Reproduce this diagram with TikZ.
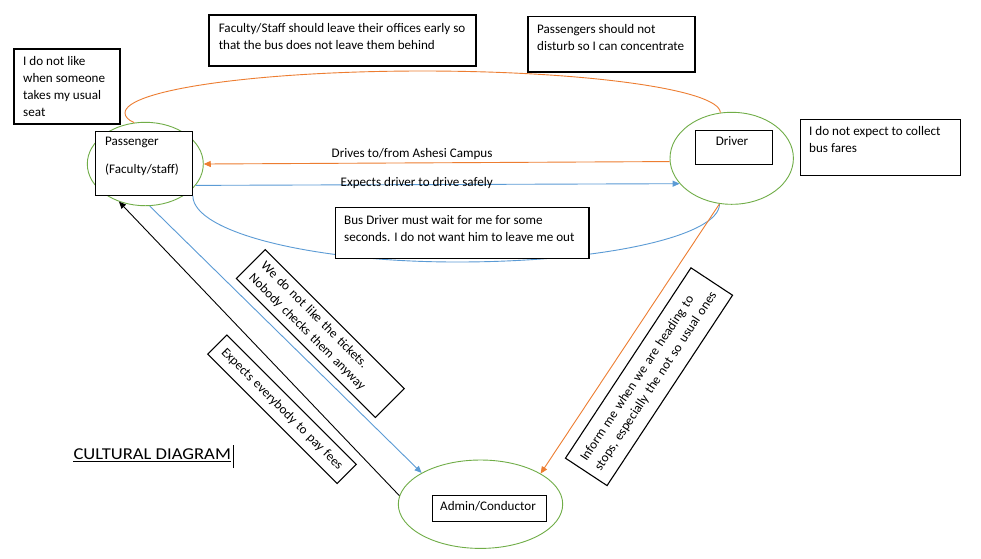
\documentclass[tikz,border=0pt]{standalone}
\usepackage{fontspec}
\setmainfont{Carlito}
\usetikzlibrary{shapes.geometric,arrows.meta}
\definecolor{og}{HTML}{ED7D31}
\definecolor{bl}{HTML}{5B9BD5}
\definecolor{gr}{HTML}{70AD47}
\tikzset{
  every node/.style={font=\fontsize{13.1}{17}\selectfont, inner sep=0pt},
  ell/.style={draw=gr, line width=0.9pt, ellipse, fill=white},
  boxs/.style={draw=black, line width=1.1pt, rectangle, fill=white},
  rbox/.style={draw=black, line width=1.1pt, rectangle, fill=white, align=left, inner xsep=8.5pt, inner ysep=0pt},
  txt/.style={anchor=north west, align=left},
  lnk/.style={line width=0.9pt},
  arr/.style={line width=0.9pt, -{Triangle[length=7pt,width=6pt]}}
}
\begin{document}
\begin{tikzpicture}[x=1pt,y=-1pt]
\fill[white] (0,0) rectangle (981,558);
\useasboundingbox (0,0) rectangle (981,558);

% ellipses
\node[ell, minimum width=116pt, minimum height=83.4pt] (pe) at (145.3,164) {};
\node[ell, minimum width=123.4pt, minimum height=92pt] (de) at (731.7,158.3) {};
\node[ell, minimum width=164.4pt, minimum height=88.4pt] (ae) at (480.5,504.2) {};

% helper coordinates for the curved links
\coordinate (oleft) at (125,113);
\coordinate (otop) at (422.5,71);
\coordinate (bbot) at (457,262);

% boxes inside ellipses
\node[boxs, minimum width=96.6pt, minimum height=63.6pt] (pbox) at (144,163.5) {};
\node[boxs, minimum width=77pt, minimum height=33.7pt] (dbox) at (733.8,147.2) {};
\node[boxs, minimum width=114.4pt, minimum height=26.3pt] (abox) at (489.5,508.2) {};

% connectors
\draw[og, lnk] (pe.105) .. controls (128,120) and (125,116.5) .. (oleft)
  .. controls (125,89.8) and (258.3,71) .. (otop)
  .. controls (586.7,71) and (720,89.8) .. (de.104);
\draw[bl, lnk] (pbox.south east) .. controls (193,232) and (311.3,262) .. (bbot)
  .. controls (602.7,262) and (720,236) .. (de.-105);
\draw[og, arr] (de.183) -- (pe.east);
\draw[bl, arr] (pe.-23) -- (de.206);
\draw[bl, arr] (pe.-84) -- (ae.152);
\draw[og, arr] (de.-105) -- (ae.27);
\draw[black, arr] (ae.174) -- (pe.-125);

% plain boxes
\node[boxs, minimum width=106pt, minimum height=75pt] (b1) at (67,86.5) {};
\node[boxs, minimum width=267pt, minimum height=51pt] (fbox) at (342.5,40.5) {};
\node[boxs, minimum width=167pt, minimum height=55.5pt] (sbox) at (611.5,44.25) {};
\node[boxs, minimum width=160.4pt, minimum height=56pt] (ebox) at (880.5,147.3) {};
\node[boxs, minimum width=253.4pt, minimum height=50.3pt] (bbox) at (462.3,233) {};

% rotated boxes
\node[rbox, rotate=-45, minimum width=196.6pt, minimum height=40.8pt, text width=179.6pt] (r1) at (320.3,333.5)
  {\strut We do not like the tickets.\\\strut Nobody checks them anyway};
\node[rbox, rotate=-45, minimum width=183pt, minimum height=27pt, text width=166pt] (r2) at (282,409.3)
  {\strut Expects everybody to pay fees};
\node[rbox, rotate=56.6, minimum width=228pt, minimum height=49.8pt, text width=211pt] (r3) at (649,376.7)
  {\strut Inform me when we are heading to\\\strut stops, especially the not so usual ones};

% texts
\node[txt] (t1) at (23,53.1) {\strut I do not like\\when someone\\takes my usual\\seat};
\node[txt] (tp) at (105,133.8) {\strut Passenger\\[10.6pt](Faculty/staff)};
\node[txt] (tf) at (218.6,19.9) {\strut Faculty/Staff should leave their offices early so\\that the bus does not leave them behind};
\node[txt] (ts) at (537,21.1) {\strut Passengers should not\\disturb so I can concentrate};
\node[anchor=base] (td) at (732,145) {Driver};
\node[txt] (te) at (809,123.1) {\strut I do not expect to collect\\bus fares};
\node[txt] (tb) at (344,212.5) {\strut Bus Driver must wait for me for some\\seconds. I do not want him to leave me out};
\node[anchor=base west] (ta) at (440,510) {Admin/Conductor};

% link labels
\node[anchor=base west] (l1) at (331.5,157.9) {Drives to/from Ashesi Campus};
\node[anchor=base west] (l2) at (340.5,186) {Expects driver to drive safely};

% title
\node[anchor=base west] (cd) at (73.3,459) {\scalebox{1.12}[1]{\fontsize{16.6}{20}\selectfont CULTURAL DIAGRAM}};
\draw[line width=0.9pt] ([yshift=-2.7pt]cd.base west) -- ([yshift=-2.7pt]cd.base east);
\draw[line width=0.9pt] ([xshift=2pt,yshift=-9pt]cd.base east) -- ([xshift=2pt,yshift=14pt]cd.base east);
\end{tikzpicture}
\end{document}
